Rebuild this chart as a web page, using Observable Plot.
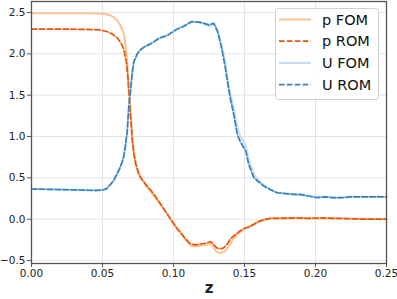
<!DOCTYPE html>
<html>
<head>
<meta charset="utf-8">
<script src="https://cdn.jsdelivr.net/npm/d3@7"></script>
<script src="https://cdn.jsdelivr.net/npm/@observablehq/plot@0.6"></script>
<style>
  html, body { margin: 0; padding: 0; background: #fff; }
  #chart { width: 397px; height: 299px; }
</style>
</head>
<body>
<div id="chart"></div>
<script>
// ---- data ----
const seriesNames = ["p FOM", "p ROM", "U FOM", "U ROM"];

const zPFOM = [0,0.02,0.04,0.05,0.055,0.058,0.0605,0.0627,0.0645,0.0655,0.0669,0.0676,0.068,0.069,0.070,0.071,0.072,0.0735,0.0756,0.078,0.081,0.085,0.089,0.092,0.096,0.099,0.103,0.106,0.109,0.112,0.116,0.119,0.123,0.126,0.128,0.130,0.133,0.136,0.138,0.140,0.142,0.146,0.150,0.154,0.158,0.162,0.166,0.17,0.18,0.19,0.20,0.21,0.22,0.23,0.24,0.25];
const vPFOM = [2.49,2.49,2.49,2.485,2.47,2.44,2.40,2.34,2.27,2.20,2.00,1.85,1.64,1.45,1.22,0.98,0.82,0.68,0.56,0.48,0.40,0.31,0.22,0.15,0.05,-0.03,-0.13,-0.19,-0.26,-0.32,-0.33,-0.32,-0.31,-0.30,-0.33,-0.39,-0.41,-0.39,-0.35,-0.30,-0.24,-0.17,-0.12,-0.08,-0.04,-0.02,0.0,0.01,0.012,0.015,0.012,0.012,0.008,0.005,0.003,0.0];

const zPROM = [0,0.02,0.04,0.048,0.053,0.057,0.060,0.063,0.065,0.067,0.068,0.069,0.070,0.071,0.072,0.0735,0.0756,0.0768,0.080,0.084,0.088,0.091,0.095,0.098,0.102,0.105,0.108,0.112,0.116,0.119,0.123,0.126,0.128,0.130,0.132,0.135,0.138,0.140,0.144,0.147,0.150,0.154,0.158,0.161,0.165,0.168,0.175,0.185,0.195,0.205,0.215,0.225,0.235,0.25];
const vPROM = [2.30,2.30,2.295,2.29,2.27,2.24,2.20,2.13,2.06,1.88,1.70,1.45,1.20,0.95,0.80,0.66,0.54,0.50,0.43,0.35,0.26,0.18,0.08,0.00,-0.10,-0.16,-0.23,-0.30,-0.31,-0.30,-0.29,-0.27,-0.30,-0.34,-0.36,-0.35,-0.30,-0.24,-0.18,-0.14,-0.11,-0.09,-0.05,-0.02,0.00,0.01,0.01,0.015,0.01,0.015,0.01,0.005,0.0,0.0];

const zU = [0,0.01,0.02,0.03,0.04,0.046,0.05,0.053,0.0556,0.058,0.060,0.062,0.064,0.065,0.066,0.0674,0.0685,0.0697,0.0710,0.072,0.0745,0.0768,0.080,0.084,0.090,0.0955,0.1026,0.107,0.113,0.119,0.123,0.125,0.1284,0.131,0.134,0.1366,0.138,0.140,0.1425,0.145,0.147,0.151,0.153,0.1566,0.160,0.1636,0.168,0.173,0.179,0.185,0.190,0.195,0.201,0.207,0.212,0.218,0.225,0.235,0.25];
const vUFOM = [0.365,0.362,0.358,0.355,0.35,0.348,0.352,0.37,0.42,0.47,0.54,0.61,0.70,0.76,0.87,1.06,1.35,1.55,1.78,1.90,2.00,2.05,2.09,2.13,2.19,2.23,2.30,2.34,2.39,2.38,2.36,2.33,2.36,2.29,2.10,1.88,1.72,1.52,1.34,1.10,1.01,0.88,0.72,0.54,0.47,0.41,0.36,0.32,0.31,0.30,0.29,0.28,0.27,0.27,0.26,0.26,0.27,0.27,0.27];
const vUROM = [0.365,0.362,0.358,0.355,0.35,0.348,0.352,0.37,0.42,0.47,0.54,0.61,0.70,0.76,0.87,1.06,1.35,1.55,1.78,1.90,2.00,2.05,2.09,2.12,2.19,2.22,2.30,2.33,2.39,2.38,2.36,2.35,2.37,2.27,2.06,1.82,1.66,1.46,1.26,1.02,0.94,0.82,0.66,0.50,0.45,0.40,0.36,0.32,0.31,0.30,0.30,0.28,0.26,0.27,0.26,0.26,0.27,0.27,0.27];

const xTicks = [0, 0.05, 0.10, 0.15, 0.20, 0.25];
const yTicks = [-0.5, 0, 0.5, 1.0, 1.5, 2.0, 2.5];

// ---- styles ----
const colors = {"p FOM": "#fdc28f", "p ROM": "#e6550d", "U FOM": "#c6dbef", "U ROM": "#3182bd"};
const dashes = {"p FOM": null, "p ROM": "5.5,2.4", "U FOM": null, "U ROM": "5.5,2.4"};
const widths = {"p FOM": 2, "p ROM": 1.7, "U FOM": 2, "U ROM": 1.7};

const toRows = (zs, vs) => zs.map((z, i) => ({z, v: vs[i]}));
const series = {
  "p FOM": toRows(zPFOM, vPFOM),
  "p ROM": toRows(zPROM, vPROM),
  "U FOM": toRows(zU, vUFOM),
  "U ROM": toRows(zU, vUROM)
};

const fmtY = v => (v < 0 ? "\u2212" : "") + Math.abs(v).toFixed(1);
const fmtX = v => v.toFixed(2);

const chart = Plot.plot({
  width: 397,
  height: 299,
  marginLeft: 31,
  marginRight: 11,
  marginTop: 1,
  marginBottom: 36,
  style: {fontFamily: "DejaVu Sans", background: "#fff", color: "#222"},
  x: {domain: [0, 0.25]},
  y: {domain: [-0.536, 2.633]},
  marks: [
    Plot.gridX(xTicks, {stroke: "#e4e4e4", strokeOpacity: 1, strokeWidth: 1}),
    Plot.gridY(yTicks, {stroke: "#e4e4e4", strokeOpacity: 1, strokeWidth: 1}),
    ...seriesNames.map(name => Plot.line(series[name], {
      x: "z", y: "v",
      stroke: colors[name],
      strokeWidth: widths[name],
      strokeDasharray: dashes[name],
      curve: "linear"
    })),
    Plot.frame({stroke: "#555", strokeWidth: 1.3}),
    Plot.axisX(xTicks, {tickFormat: fmtX, tickSize: 4, tickPadding: 2, fontSize: 10.5, stroke: "#555", label: null}),
    Plot.axisY(yTicks, {tickFormat: fmtY, tickSize: 4, tickPadding: 2, fontSize: 10.5, stroke: "#555", label: null}),
    Plot.axisX([], {label: "z", labelAnchor: "center", labelArrow: "none", labelOffset: 29, fontSize: 15, fontWeight: "bold"})
  ]
});

document.getElementById("chart").appendChild(chart);

// ---- legend (drawn into the same svg) ----
const svg = d3.select(chart);
const lg = svg.append("g").attr("font-family", "DejaVu Sans").attr("font-size", 14.5).attr("text-anchor", "start");
lg.append("rect")
  .attr("x", 275.5).attr("y", 8.5).attr("width", 103).attr("height", 91)
  .attr("rx", 3).attr("fill", "#fff").attr("fill-opacity", 0.85)
  .attr("stroke", "#d0d0d0").attr("stroke-width", 1);
seriesNames.forEach((name, i) => {
  const cy = 19.5 + i * 21.7;
  lg.append("line")
    .attr("x1", 279).attr("x2", 311).attr("y1", cy).attr("y2", cy)
    .attr("stroke", colors[name]).attr("stroke-width", widths[name])
    .attr("stroke-dasharray", dashes[name]);
  lg.append("text")
    .attr("x", 322).attr("y", cy).attr("dy", "0.36em")
    .attr("text-anchor", "start")
    .attr("fill", "#111").text(name);
});
</script>
</body>
</html>
